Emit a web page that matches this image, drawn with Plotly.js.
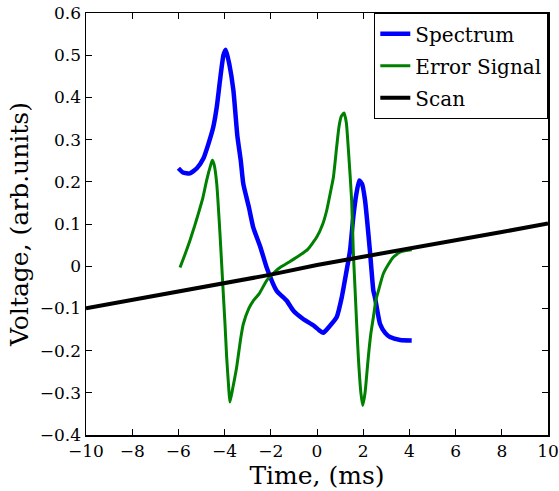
<!DOCTYPE html>
<html>
<head>
<meta charset="utf-8">
<script src="https://cdn.plot.ly/plotly-3.0.1.min.js"></script>
<style>html,body{margin:0;padding:0;background:#fff}#chart{width:559px;height:491px}</style>
</head>
<body>
<div id="chart"></div>
<script>
const spectrumX = [-6.0,-5.8,-5.5,-5.2,-4.92,-4.7,-4.49,-4.34,-4.2,-4.05,-3.95,-3.8,-3.62,-3.45,-3.3,-3.19,-2.95,-2.76,-2.45,-2.18,-1.75,-1.31,-1.03,-0.6,-0.16,0.1,0.27,0.5,0.85,1.07,1.25,1.43,1.57,1.7,1.83,1.95,2.08,2.29,2.44,2.51,2.73,2.95,3.16,3.6,4.1];
const spectrumY = [0.232,0.222,0.22,0.232,0.255,0.29,0.33,0.377,0.44,0.5,0.513,0.48,0.417,0.31,0.25,0.195,0.14,0.092,0.045,-0.003,-0.058,-0.082,-0.105,-0.125,-0.14,-0.152,-0.158,-0.145,-0.121,-0.074,-0.02,0.037,0.116,0.17,0.203,0.195,0.156,0.037,-0.058,-0.074,-0.137,-0.158,-0.168,-0.175,-0.176];

const errorX = [-5.93,-5.7,-5.5,-5.3,-5.14,-4.95,-4.78,-4.6,-4.53,-4.45,-4.34,-4.2,-4.08,-3.98,-3.91,-3.82,-3.77,-3.65,-3.48,-3.3,-3.19,-2.95,-2.76,-2.5,-2.18,-1.8,-1.6,-1.2,-0.88,-0.4,-0.01,0.25,0.42,0.6,0.71,0.85,0.95,1.05,1.17,1.27,1.36,1.5,1.57,1.65,1.72,1.79,1.9,1.98,2.08,2.22,2.33,2.44,2.55,2.66,2.87,3.1,3.3,3.59,3.85,4.1];
const errorY = [-0.003,0.03,0.061,0.095,0.124,0.16,0.203,0.24,0.251,0.24,0.195,0.077,-0.042,-0.14,-0.216,-0.29,-0.322,-0.29,-0.24,-0.17,-0.137,-0.1,-0.082,-0.065,-0.034,-0.012,-0.003,0.01,0.021,0.04,0.069,0.1,0.132,0.18,0.211,0.282,0.33,0.355,0.363,0.34,0.275,0.156,0.037,-0.058,-0.14,-0.216,-0.3,-0.33,-0.3,-0.216,-0.16,-0.121,-0.08,-0.058,-0.018,0.005,0.021,0.033,0.037,0.039];

const scanX = [-10,-8,-6,-4,-2,0,2,4,6,8,10];
const scanY = [-0.1,-0.08,-0.06,-0.04,-0.02,0.003,0.022,0.041,0.061,0.081,0.101];

const xTicks = [-10,-8,-6,-4,-2,0,2,4,6,8,10];
const yTicks = [-0.4,-0.3,-0.2,-0.1,0,0.1,0.2,0.3,0.4,0.5,0.6];

const serif = 'DejaVu Serif, serif';

const traces = [
  {x: spectrumX, y: spectrumY, name: 'Spectrum', legendgroup: 'a', mode: 'lines', line: {color: '#0000ff', width: 4.5, shape: 'spline', smoothing: 0.5}},
  {x: errorX, y: errorY, name: 'Error Signal', legendgroup: 'b', mode: 'lines', line: {color: '#008000', width: 3, shape: 'spline', smoothing: 0.5}},
  {x: scanX, y: scanY, name: 'Scan', legendgroup: 'c', mode: 'lines', line: {color: '#000000', width: 4}}
];

const fmt = v => (v < 0 ? '\u2212' : '') + (Math.abs(v) === 0 ? '0' : String(Math.abs(v)));

const axisCommon = {
  showgrid: false, zeroline: false, showline: true, mirror: 'ticks',
  linecolor: '#000', linewidth: 1.5, ticks: 'inside', ticklen: 6, tickcolor: '#000',
  tickfont: {family: serif, size: 17, color: '#000'}
};

const layout = {
  width: 559, height: 491,
  margin: {l: 86, r: 11, t: 13, b: 56},
  paper_bgcolor: '#fff', plot_bgcolor: '#fff',
  showlegend: true,
  legend: {x: 1, y: 1, xanchor: 'right', yanchor: 'top', bgcolor: '#fff', bordercolor: '#000', borderwidth: 1.3,
           traceorder: 'grouped', tracegroupgap: 3, itemwidth: 30,
           font: {family: serif, size: 20, color: '#000'}},
  xaxis: Object.assign({}, axisCommon, {
    range: [-10, 10], tickvals: xTicks, ticktext: xTicks.map(fmt),
    title: {text: 'Time, (ms)', font: {family: serif, size: 25, color: '#000'}, standoff: 2}
  }),
  yaxis: Object.assign({}, axisCommon, {
    range: [-0.4, 0.6], tickvals: yTicks, ticktext: yTicks.map(fmt),
    title: {text: 'Voltage, (arb.units)', font: {family: serif, size: 25, color: '#000'}, standoff: 4}
  })
};

Plotly.newPlot('chart', traces, layout, {staticPlot: true, displayModeBar: false});
</script>
</body>
</html>
